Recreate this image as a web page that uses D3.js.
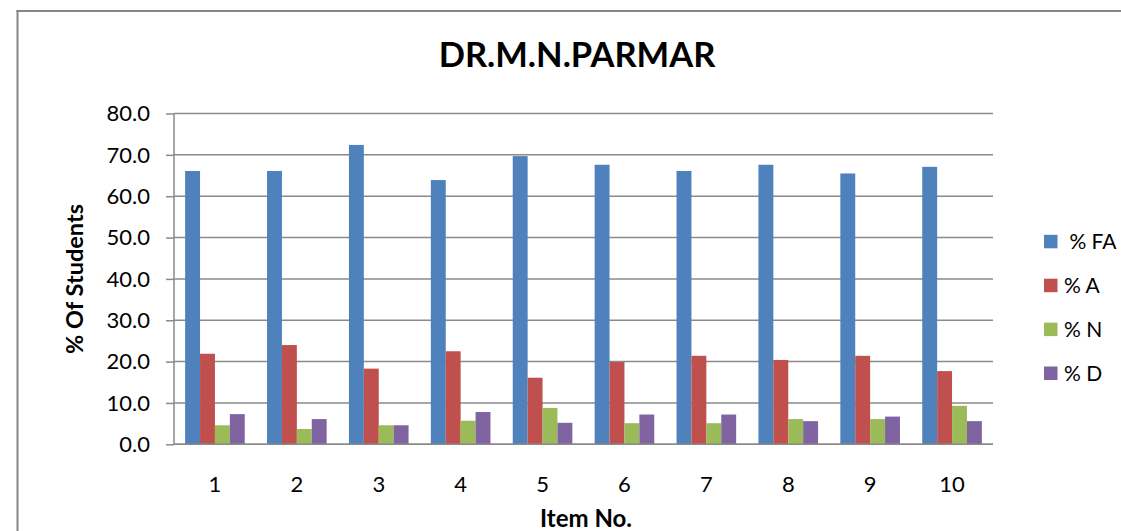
<!DOCTYPE html>
<html>
<head>
<meta charset="utf-8">
<script src="https://cdn.jsdelivr.net/npm/d3@7"></script>
<style>
  html, body { margin: 0; padding: 0; background: #fff; overflow: hidden; }
  svg { display: block; font-family: Lato, "Open Sans", sans-serif; }
</style>
</head>
<body>
<div id="chart"></div>
<script>
// Values (percent of students per item)
var items = ['1', '2', '3', '4', '5', '6', '7', '8', '9', '10'];
var seriesNames = [' % FA', '% A', '% N', '% D'];
var pctFA = [66.1, 66.1, 72.4, 63.9, 69.7, 67.6, 66.1, 67.6, 65.5, 67.1];
var pctA  = [21.9, 24.0, 18.3, 22.5, 16.1, 19.9, 21.4, 20.4, 21.4, 17.7];
var pctN  = [4.6, 3.7, 4.6, 5.7, 8.8, 5.1, 5.1, 6.1, 6.1, 9.3];
var pctD  = [7.3, 6.1, 4.6, 7.8, 5.2, 7.2, 7.2, 5.6, 6.7, 5.6];
var yTicks = [0, 10, 20, 30, 40, 50, 60, 70, 80];

var colors = ['#4F81BD', '#C0504D', '#9BBB59', '#8064A2'];
var allSeries = [pctFA, pctA, pctN, pctD];

var width = 1121, height = 531;
var plot = { left: 174, right: 993, top: 113.5, bottom: 444.3 };

var svg = d3.select('#chart')
    .append('svg')
    .attr('width', width)
    .attr('height', height);

// outer chart border: left edge and top edge drawn as two lines
svg.append('line')
    .attr('x1', 17.5).attr('x2', 17.5)
    .attr('y1', 10).attr('y2', height)
    .attr('stroke', '#868686')
    .attr('stroke-width', 2);
svg.append('line')
    .attr('x1', 16.5).attr('x2', width)
    .attr('y1', 11).attr('y2', 11)
    .attr('stroke', '#868686')
    .attr('stroke-width', 2);

// scales
var x0 = d3.scaleBand()
    .domain(items)
    .range([plot.left, plot.right])
    .paddingInner(0.272)
    .paddingOuter(0.136);

var x1 = d3.scaleBand()
    .domain(d3.range(seriesNames.length))
    .range([0, x0.bandwidth()]);

var y = d3.scaleLinear()
    .domain([0, 80])
    .range([plot.bottom, plot.top]);

// gridlines
svg.append('g')
    .selectAll('line')
    .data(yTicks)
    .enter()
    .append('line')
    .attr('x1', plot.left)
    .attr('x2', plot.right)
    .attr('y1', d => y(d))
    .attr('y2', d => y(d))
    .attr('stroke', '#8a8a8a')
    .attr('stroke-width', 1.5);

// bars
var groups = svg.append('g')
    .selectAll('g')
    .data(allSeries)
    .enter()
    .append('g')
    .attr('fill', (d, i) => colors[i]);

groups.each(function(values, si) {
    d3.select(this)
        .selectAll('rect')
        .data(values)
        .enter()
        .append('rect')
        .attr('x', (d, i) => x0(items[i]) + x1(si))
        .attr('y', d => y(d))
        .attr('width', x1.bandwidth())
        .attr('height', d => y(0) - y(d));
});

// y axis
var yAxis = svg.append('g')
    .attr('transform', `translate(${plot.left}, 0)`)
    .call(d3.axisLeft(y).tickValues(yTicks).tickFormat(d3.format('.1f')).tickSize(8).tickPadding(16));

yAxis.selectAll('line, path').attr('stroke', '#8a8a8a').attr('stroke-width', 1.5);
yAxis.select('.domain').attr('d', `M0,${plot.top}V${plot.bottom}`);
yAxis.selectAll('text')
    .attr('font-family', 'Lato')
    .attr('font-size', '22px')
    .attr('fill', '#000')
    .attr('dy', '0.33em');

// x axis
var xAxis = svg.append('g')
    .attr('transform', `translate(0, ${plot.bottom})`)
    .call(d3.axisBottom(x0).tickSize(0).tickPadding(32));

xAxis.select('.domain')
    .attr('d', `M${plot.left},0H${plot.right}`)
    .attr('stroke', '#8a8a8a')
    .attr('stroke-width', 1.5);
xAxis.selectAll('text')
    .attr('font-family', 'Lato')
    .attr('font-size', '22px')
    .attr('fill', '#000');

// title
svg.append('text')
    .attr('x', 577)
    .attr('y', 66.5)
    .attr('text-anchor', 'middle')
    .style('font-size', '34.5px')
    .style('font-weight', 'bold')
    .text('DR.M.N.PARMAR');

// axis titles
svg.append('text')
    .attr('transform', 'rotate(-90)')
    .attr('x', -279)
    .attr('y', 83)
    .attr('text-anchor', 'middle')
    .style('font-size', '23.5px')
    .style('font-weight', 'bold')
    .text('% Of Students');

svg.append('text')
    .attr('x', 586)
    .attr('y', 527)
    .attr('text-anchor', 'middle')
    .style('font-size', '24px')
    .style('font-weight', 'bold')
    .text('Item No.');

// legend
var legendY = d3.scalePoint()
    .domain(seriesNames)
    .range([241.5, 373.2]);

var legend = svg.append('g')
    .selectAll('g')
    .data(seriesNames)
    .enter()
    .append('g')
    .attr('transform', d => `translate(1044, ${legendY(d)})`);

legend.append('rect')
    .attr('x', 0)
    .attr('y', -6.7)
    .attr('width', 13.5)
    .attr('height', 13.5)
    .attr('fill', (d, i) => colors[i]);

legend.append('text')
    .attr('x', 20)
    .attr('y', 7.3)
    .style('font-size', '21px')
    .style('white-space', 'pre')
    .text(d => d);
</script>
</body>
</html>
